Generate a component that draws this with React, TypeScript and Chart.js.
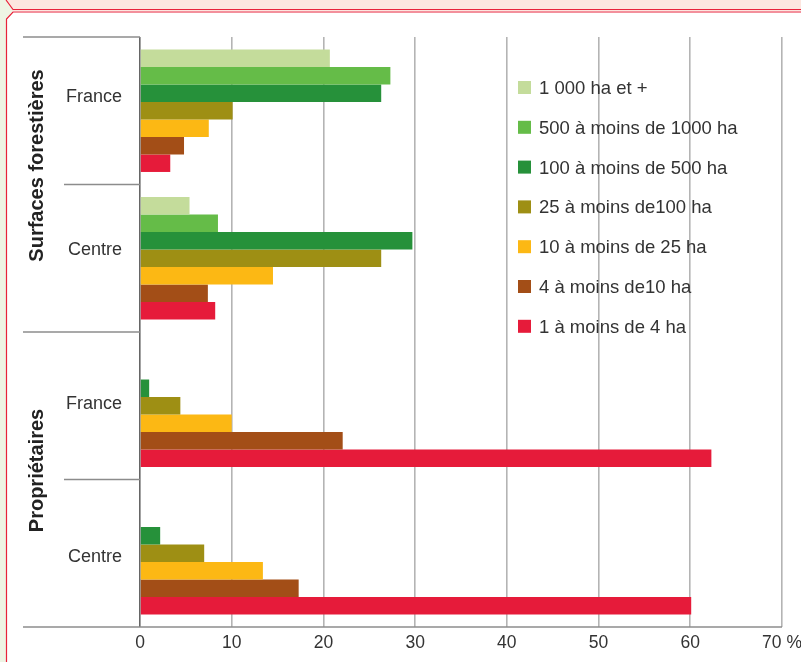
import React, { useEffect, useRef } from "react";
import { Chart, registerables } from "chart.js";

Chart.register(...registerables);

const categories = ["France", "Centre", "France", "Centre"];
const groupLabels = ["Surfaces forestières", "Propriétaires"];
const seriesNames = [
  "1 000 ha et +",
  "500 à moins de 1000 ha",
  "100 à moins de 500 ha",
  "25 à moins de100 ha",
  "10 à moins de 25 ha",
  "4 à moins de10 ha",
  "1 à moins de 4 ha",
];
const s1000 = [20.7, 5.4, 0, 0];
const s500 = [27.3, 8.5, 0, 0];
const s100 = [26.3, 29.7, 1.0, 2.2];
const s25 = [10.1, 26.3, 4.4, 7.0];
const s10 = [7.5, 14.5, 10.0, 13.4];
const s4 = [4.8, 7.4, 22.1, 17.3];
const s1 = [3.3, 8.2, 62.3, 60.1];
const seriesValues = [s1000, s500, s100, s25, s10, s4, s1];
const seriesColors = ["#c4dc9b", "#65bc48", "#26913a", "#9e8f14", "#fcb814", "#a34e17", "#e61b3a"];
const xTicks = [0, 10, 20, 30, 40, 50, 60, 70];

const FONT = "'Liberation Sans', Arial, Helvetica, sans-serif";
// vertical nudges of the category labels relative to the category centre (layout only)
const catLabelShift = [-14, -8, -2, 4];
const groupLabelShift = [-19, -9];

const framePlugin = {
  id: "frame",
  beforeDraw(chart: any) {
    const ctx = chart.ctx;
    const W = chart.width;
    const H = chart.height;
    ctx.save();
    ctx.fillStyle = "#eef4e4";
    ctx.fillRect(0, 0, W, H);
    ctx.fillStyle = "#fde6df";
    ctx.beginPath();
    ctx.moveTo(6, 0);
    ctx.lineTo(W, 0);
    ctx.lineTo(W, 11);
    ctx.lineTo(13, 11);
    ctx.closePath();
    ctx.fill();
    ctx.fillStyle = "#ffffff";
    ctx.beginPath();
    ctx.moveTo(13, 11);
    ctx.lineTo(W, 11);
    ctx.lineTo(W, H);
    ctx.lineTo(6.5, H);
    ctx.lineTo(6.5, 19);
    ctx.closePath();
    ctx.fill();
    ctx.strokeStyle = "#e8223a";
    ctx.lineWidth = 1.2;
    ctx.beginPath();
    ctx.moveTo(6, 0);
    ctx.lineTo(13, 9.5);
    ctx.lineTo(W, 9.5);
    ctx.stroke();
    ctx.beginPath();
    ctx.moveTo(W, 12);
    ctx.lineTo(13, 12);
    ctx.lineTo(6.5, 19);
    ctx.lineTo(6.5, H);
    ctx.stroke();
    ctx.restore();
  },
  afterDraw(chart: any) {
    const ctx = chart.ctx;
    const y = chart.scales.y;
    const area = chart.chartArea;
    const labels = chart.data.labels;
    const n = labels.length;
    const bounds: number[] = [];
    for (let i = 0; i <= n; i++) {
      bounds.push(y.getPixelForValue(i - 0.5));
    }
    ctx.save();
    ctx.strokeStyle = "#8c8c8c";
    ctx.lineWidth = 1.5;
    bounds.forEach((b, i) => {
      const x0 = i % 2 === 0 ? 23 : 64;
      const x1 = i === n ? area.right : area.left;
      ctx.beginPath();
      ctx.moveTo(x0, b);
      ctx.lineTo(x1, b);
      ctx.stroke();
    });
    // category labels
    ctx.fillStyle = "#333";
    ctx.font = `18px ${FONT}`;
    ctx.textAlign = "right";
    ctx.textBaseline = "middle";
    labels.forEach((lab: string, i: number) => {
      ctx.fillText(lab, 122, y.getPixelForValue(i) + catLabelShift[i]);
    });
    // group labels
    ctx.fillStyle = "#222";
    ctx.font = `bold 20px ${FONT}`;
    ctx.textAlign = "center";
    groupLabels.forEach((g, gi) => {
      const cy = bounds[gi * 2 + 1] + groupLabelShift[gi];
      ctx.save();
      ctx.translate(37, cy);
      ctx.rotate(-Math.PI / 2);
      ctx.fillText(g, 0, 0);
      ctx.restore();
    });
    // legend
    ctx.font = `18.5px ${FONT}`;
    ctx.textAlign = "left";
    chart.data.datasets.forEach((ds: any, i: number) => {
      const cy = 88 + i * 39.8;
      ctx.fillStyle = ds.backgroundColor;
      ctx.fillRect(518, cy - 7, 13, 13);
      ctx.fillStyle = "#333";
      ctx.fillText(ds.label, 539, cy + 1);
    });
    ctx.restore();
  },
};

export default function App() {
  const ref = useRef<HTMLCanvasElement>(null);
  useEffect(() => {
    document.body.style.margin = "0";
    const chart = new Chart(ref.current!, {
      type: "bar",
      data: {
        labels: categories,
        datasets: seriesNames.map((name, i) => ({
          label: name,
          data: seriesValues[i],
          backgroundColor: seriesColors[i],
          borderWidth: 0,
          barPercentage: 1,
          categoryPercentage: 0.83,
        })),
      },
      options: {
        indexAxis: "y",
        animation: false,
        responsive: false,
        layout: { padding: { left: 0, right: 19, top: 37, bottom: 0 } },
        plugins: { legend: { display: false }, tooltip: { enabled: false } },
        scales: {
          x: {
            min: 0,
            max: 70,
            afterBuildTicks: (s: any) => {
              s.ticks = xTicks.map((v) => ({ value: v }));
            },
            afterFit: (s: any) => {
              s.height = 35;
              s.paddingLeft = 0;
              s.paddingRight = 0;
            },
            border: { display: false },
            grid: {
              color: (c: any) => (c.tick && c.tick.value === 0 ? "#666666" : "#b4b4b4"),
              lineWidth: 1.6,
              drawTicks: false,
            },
            ticks: {
              padding: 6,
              color: "#333",
              font: { family: FONT, size: 17.5 },
              maxRotation: 0,
              callback: (v: any) => (Number(v) === 70 ? "70 %" : String(v)),
            },
          },
          y: {
            offset: true,
            afterFit: (s: any) => {
              s.width = 140;
            },
            border: { display: false },
            grid: { display: false, drawTicks: false },
            ticks: { display: false },
          },
        },
      },
      plugins: [framePlugin],
    } as any);
    return () => chart.destroy();
  }, []);
  return (
    <div style={{ width: 801, height: 662 }}>
      <canvas ref={ref} width={801} height={662} style={{ display: "block" }} />
    </div>
  );
}
